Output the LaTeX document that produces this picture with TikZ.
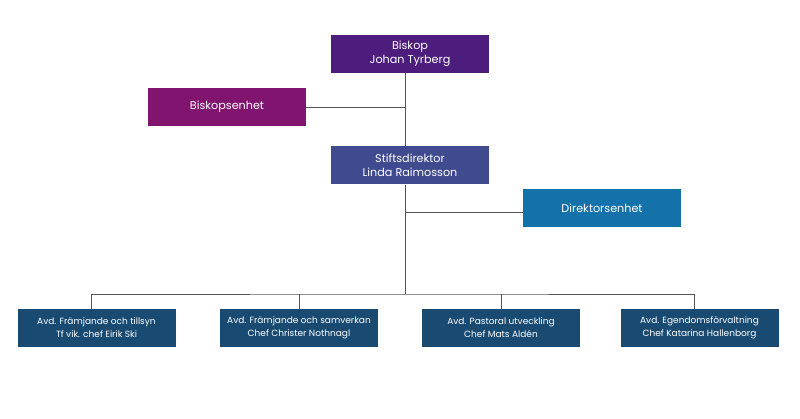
\documentclass[tikz,border=0pt]{standalone}
\usepackage{fontspec}
\setmainfont{Poppins}
\usepackage{tikz}
\usetikzlibrary{positioning}
\definecolor{biskopc}{HTML}{4C1D7D}
\definecolor{enhetc}{HTML}{80146E}
\definecolor{direktc}{HTML}{3F4A8F}
\definecolor{direnhc}{HTML}{1471AA}
\definecolor{avdc}{HTML}{184A72}
\definecolor{linec}{HTML}{555555}
\tikzset{
  unit/.style={draw=none,text=white,align=center,inner sep=0pt,
    minimum width=158pt,minimum height=38pt,
    font=\fontsize{11.2}{13.5}\selectfont},
  avd/.style={unit,fill=avdc,font=\fontsize{9}{13}\selectfont},
  link/.style={draw=linec,line width=0.9pt}
}

\begin{document}
\begin{tikzpicture}[x=1pt,y=-1pt]
  \useasboundingbox (0,0) rectangle (800,419);
  % ledning
  \node[unit,fill=biskopc] (biskop) at (410,54) {Biskop\\Johan Tyrberg};
  \node[unit,fill=enhetc] (biskenh) at (227,107) {Biskopsenhet};
  \node[unit,fill=direktc] (direktor) at (410,165.5) {Stiftsdirektor\\Linda Raimosson};
  \node[unit,fill=direnhc] (direnh) at (602,208.5) {Direktorsenhet};
  % avdelningar
  \node[avd] (avd1) at (96.5,328) {Avd. Främjande och tillsyn\\Tf vik. chef Eirik Ski};
  \node[avd] (avd2) at (299,328) {Avd. Främjande och samverkan\\Chef Christer Nothnagl};
  \node[avd] (avd3) at (501,328) {Avd. Pastoral utveckling\\Chef Mats Aldén};
  \node[avd] (avd4) at (699.5,328) {Avd. Egendomsförvaltning\\Chef Katarina Hallenborg};
  % linjer
  \coordinate (top) at ([xshift=-4.5pt]biskop.south);
  \coordinate (mid) at ([xshift=-4.5pt]direktor.north);
  \coordinate (low) at ([xshift=-4.5pt]direktor.south);
  \coordinate (bus) at (low |- 0,294);
  \draw[link] (top) -- (mid);
  \draw[link] (biskenh.east) -- (biskenh.east -| top);
  \draw[link] (low) -- (bus);
  \draw[link] (direnh.west |- 0,212) -- (low |- 0,212);
  \draw[link] (avd1.north -| 91,0) |- (bus) -| (avd4.north -| 694,0);
  \draw[link] (avd2.north) -- (avd2.north |- bus);
  \draw[link] (avd3.north) -- (avd3.north |- bus);
\end{tikzpicture}
\end{document}
